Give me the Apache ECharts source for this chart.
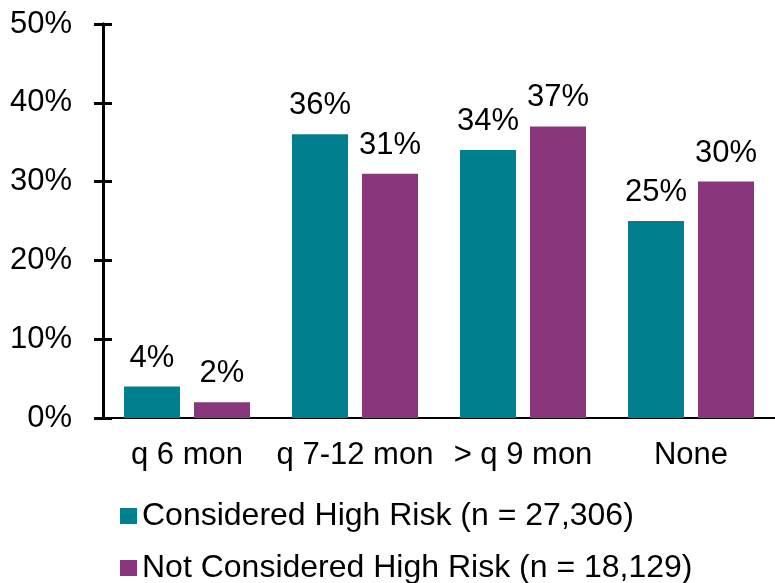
<!DOCTYPE html>
<html>
<head>
<meta charset="utf-8">
<script src="https://cdn.jsdelivr.net/npm/echarts@6/dist/echarts.min.js"></script>
<style>
  html, body { margin: 0; padding: 0; background: #fff; }
  #chart { width: 775px; height: 583px; }
</style>
</head>
<body>
<div id="chart"></div>
<script>
const categories = ['q 6 mon', 'q 7-12 mon', '> q 9 mon', 'None'];
const highRisk = [4, 36, 34, 25];
const notHighRisk = [2, 31, 37, 30];
const seriesNames = ['Considered High Risk (n = 27,306)', 'Not Considered High Risk (n = 18,129)'];
const yTicks = { min: 0, max: 50, interval: 10 };

const FONT = '"Liberation Sans", Arial, sans-serif';
const FS = 31;
const TEAL = '#00808F';
const PURPLE = '#8A367C';

const chart = echarts.init(document.getElementById('chart'), null, { renderer: 'canvas' });

const labelStyle = {
  show: true,
  position: 'top',
  distance: 13,
  color: '#000',
  fontFamily: FONT,
  fontSize: FS,
  formatter: p => p.value + '%'
};

const yBase = {
  type: 'value',
  min: yTicks.min,
  max: yTicks.max,
  interval: yTicks.interval,
  position: 'left',
  splitLine: { show: false },
  axisLine: { show: true, lineStyle: { color: '#000', width: 3 } }
};

// one legend block per series so they stack on separate rows
const legendBase = {
  orient: 'horizontal',
  left: 120,
  padding: 0,
  itemWidth: 17,
  itemHeight: 16,
  icon: 'rect',
  textStyle: { fontFamily: FONT, fontSize: 32, color: '#000' }
};

chart.setOption({
  animation: false,
  grid: { left: 103, top: 24, width: 673, height: 394, containLabel: false },
  legend: [
    Object.assign({}, legendBase, { top: 500, data: [seriesNames[0]] }),
    Object.assign({}, legendBase, { top: 552, data: [seriesNames[1]] })
  ],
  xAxis: {
    type: 'category',
    data: categories,
    axisLine: { show: true, lineStyle: { color: '#000', width: 2 } },
    axisTick: { show: false },
    axisLabel: { color: '#000', fontFamily: FONT, fontSize: FS, margin: 22, interval: 0 }
  },
  yAxis: [
    Object.assign({}, yBase, {
      axisTick: { show: true, length: 9, lineStyle: { color: '#000', width: 3 } },
      axisLabel: { color: '#000', fontFamily: FONT, fontSize: FS, margin: 31, formatter: '{value}%' }
    }),
    Object.assign({}, yBase, {
      axisTick: { show: true, inside: true, length: 9, lineStyle: { color: '#000', width: 3 } },
      axisLabel: { show: false }
    })
  ],
  series: [
    {
      name: seriesNames[0],
      type: 'bar',
      data: highRisk,
      barWidth: 56,
      barGap: '25%',
      itemStyle: { color: TEAL },
      label: labelStyle
    },
    {
      name: seriesNames[1],
      type: 'bar',
      data: notHighRisk,
      barWidth: 56,
      barGap: '25%',
      itemStyle: { color: PURPLE },
      label: labelStyle
    }
  ]
});
</script>
</body>
</html>
